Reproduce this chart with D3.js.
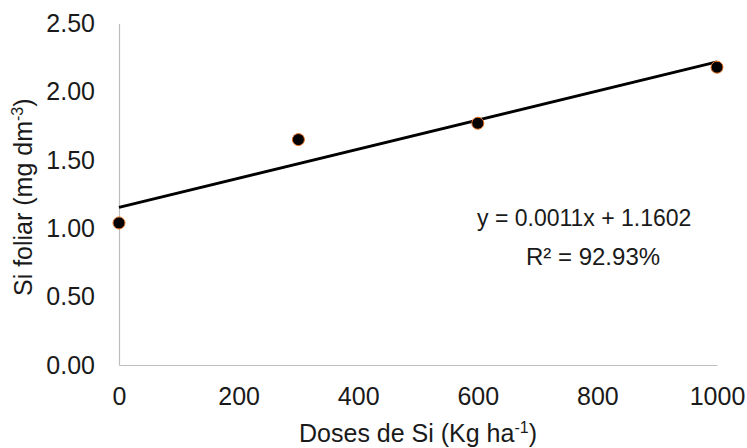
<!DOCTYPE html>
<html>
<head>
<meta charset="utf-8">
<script src="https://cdn.jsdelivr.net/npm/d3@7"></script>
<style>
  body { margin: 0; background: #fff; }
  text { font-family: "Liberation Sans", Arial, sans-serif; fill: #1a1a1a; }
</style>
</head>
<body>
<div id="chart"></div>
<script>
// data
const doses = [0, 300, 600, 1000];
const siFoliar = [1.04, 1.65, 1.77, 2.18];
const xTicks = [0, 200, 400, 600, 800, 1000];
const yTicks = [0, 0.5, 1, 1.5, 2, 2.5];
const eqLabel = "y = 0.0011x + 1.1602";
const r2Label = "R² = 92.93%";

const width = 747, height = 448;
const margin = { top: 23.5, right: 30, bottom: 83, left: 119 };

const svg = d3.select("#chart").append("svg")
    .attr("width", width)
    .attr("height", height);

const x = d3.scaleLinear().domain([0, 1000]).range([margin.left, width - margin.right]);
const y = d3.scaleLinear().domain([0, 2.5]).range([height - margin.bottom, margin.top]);

// axes: only the lines and labels, no tick marks
const xAxis = svg.append("g")
    .attr("transform", `translate(0,${y(0)})`)
    .call(d3.axisBottom(x).tickValues(xTicks).tickSize(0).tickPadding(22).tickFormat(d3.format("d")));
xAxis.select(".domain").attr("stroke", "#bdbdbd").attr("stroke-width", 1.2);
xAxis.selectAll("text").style("font-size", "25px").attr("fill", "#1a1a1a");

const yAxis = svg.append("g")
    .attr("transform", `translate(${x(0)},0)`)
    .call(d3.axisLeft(y).tickValues(yTicks).tickSize(0).tickPadding(24).tickFormat(d3.format(".2f")));
yAxis.select(".domain").attr("stroke", "#bdbdbd").attr("stroke-width", 1.2);
yAxis.selectAll("text").style("font-size", "25px").attr("fill", "#1a1a1a");

// least squares trend line from the points
const mx = d3.mean(doses), my = d3.mean(siFoliar);
const slope = d3.sum(doses, (d, i) => (d - mx) * (siFoliar[i] - my)) / d3.sum(doses, d => (d - mx) ** 2);
const intercept = my - slope * mx;
const trend = [0, 1000].map(d => [d, intercept + slope * d]);

svg.append("path")
    .datum(trend)
    .attr("fill", "none")
    .attr("stroke", "#000")
    .attr("stroke-width", 3)
    .attr("d", d3.line().x(d => x(d[0])).y(d => y(d[1])));

svg.selectAll(".pt")
    .data(doses)
    .enter()
    .append("circle")
    .attr("class", "pt")
    .attr("cx", d => x(d))
    .attr("cy", (d, i) => y(siFoliar[i]))
    .attr("r", 6)
    .attr("fill", "#000")
    .attr("stroke", "#e9701f")
    .attr("stroke-width", 1);

// equation
svg.append("text")
    .attr("x", 477).attr("y", 226)
    .style("font-size", "23px")
    .text(eqLabel);
svg.append("text")
    .attr("x", 526).attr("y", 265)
    .style("font-size", "24px")
    .text(r2Label);

// axis titles
const xTitle = svg.append("text")
    .attr("x", (x(0) + x(1000)) / 2).attr("y", 442)
    .attr("text-anchor", "middle")
    .style("font-size", "25px");
xTitle.append("tspan").text("Doses de Si (Kg ha");
xTitle.append("tspan").attr("dy", -9).style("font-size", "16px").text("-1");
xTitle.append("tspan").attr("dy", 9).text(")");

const yTitle = svg.append("text")
    .attr("transform", `translate(32,${(y(0) + y(2.5)) / 2 + 3}) rotate(-90)`)
    .attr("text-anchor", "middle")
    .style("font-size", "25px");
yTitle.append("tspan").text("Si foliar (mg dm");
yTitle.append("tspan").attr("dy", -9).style("font-size", "16px").text("-3");
yTitle.append("tspan").attr("dy", 9).text(")");
</script>
</body>
</html>
